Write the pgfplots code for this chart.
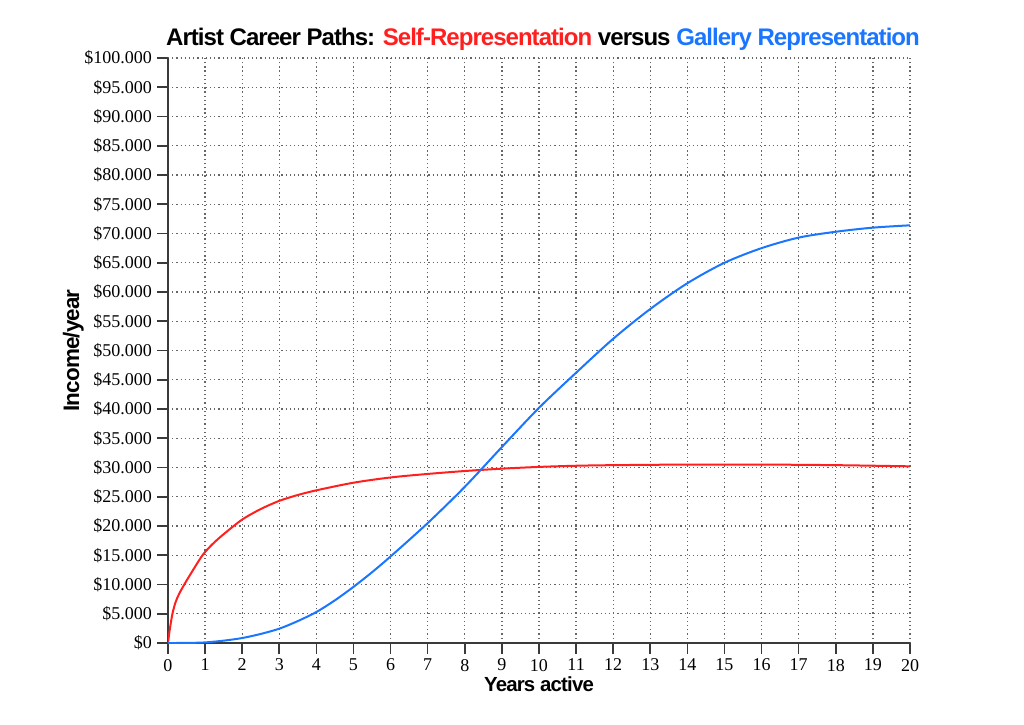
\documentclass[border=0pt]{standalone}
\usepackage{fontspec}
\setmainfont{Liberation Serif}
\newfontfamily\headfont{Liberation Sans}[LetterSpace=-4]
\usepackage{pgfplots}
\pgfplotsset{compat=1.18}
\definecolor{selfred}{HTML}{FF1F1F}
\definecolor{galblue}{HTML}{1A75FF}
\definecolor{axgray}{HTML}{3A3A3A}
\begin{document}
\begin{tikzpicture}
\begin{axis}[
  scale only axis,
  width=371pt, height=292.5pt,
  at={(0,0)}, anchor=south west,
  xmin=0, xmax=20, ymin=0, ymax=100000,
  axis x line=bottom, axis y line=left,
  axis line style={axgray, line width=0.9pt, -},
  xtick={0,1,...,20},
  ytick={0,5000,...,100000},
  tick style={axgray, line width=0.8pt},
  tick align=outside,
  major tick length=5.5pt,
  grid=major,
  major grid style={black!60, line width=0.65pt, dash pattern=on 0.65pt off 1.45pt},
  /pgf/number format/assume math mode=true,
  scaled y ticks=false,
  yticklabel={\$\pgfmathprintnumber[fixed,precision=0,1000 sep={.}]{\tick}},
  tick label style={font=\fontsize{9}{10}\selectfont},
  yticklabel style={xshift=1pt},
  xticklabel style={yshift=1pt},
  xlabel={\headfont\bfseries Years active},
  ylabel={\headfont\bfseries Income/year},
  xlabel style={font=\fontsize{10.2}{12}\selectfont, yshift=4pt},
  ylabel style={font=\fontsize{11.2}{13}\selectfont, yshift=-6.5pt},
  title={\headfont\bfseries Artist Career Paths: \textcolor{selfred}{Self-Representation} versus \textcolor{galblue}{Gallery Representation}},
  title style={font=\fontsize{12}{14}\selectfont, yshift=-6pt, xshift=2pt},
]
% self-representation: fast start, plateau near 30k
\addplot[selfred, line width=1pt, smooth, tension=0.5] coordinates {
(0,0) (0.03,1500) (0.06,2800) (0.12,5000) (0.2,6900) (0.3,8400) (0.44,10000)
(0.6,11700) (0.93,15000) (1.2,16900) (1.5,18600) (2,21100) (2.5,22900)
(3,24300) (3.5,25300) (4,26100) (5,27400) (6,28300) (7,28900) (8,29400)
(9,29800) (10,30100) (11,30300) (12,30400) (14,30500) (16,30500)
(18,30400) (20,30200)
};
% gallery representation: slow start, s-curve to ~71k
\addplot[galblue, line width=1pt, smooth] coordinates {
(0,0) (0.5,10) (1,100) (1.5,400) (2,850) (2.5,1550) (3,2450) (3.5,3750)
(4,5300) (4.5,7300) (5,9600) (5.5,12100) (6,14800) (7,20500) (8,26700)
(9,33500) (10,40200) (11,46200) (12,52000) (13,57100) (14,61500)
(15,65000) (16,67500) (17,69300) (18,70300) (19,71000) (20,71400)
};
\end{axis}
\useasboundingbox (-84pt,-40.5pt) rectangle (428pt,321.5pt);
\end{tikzpicture}
\end{document}
